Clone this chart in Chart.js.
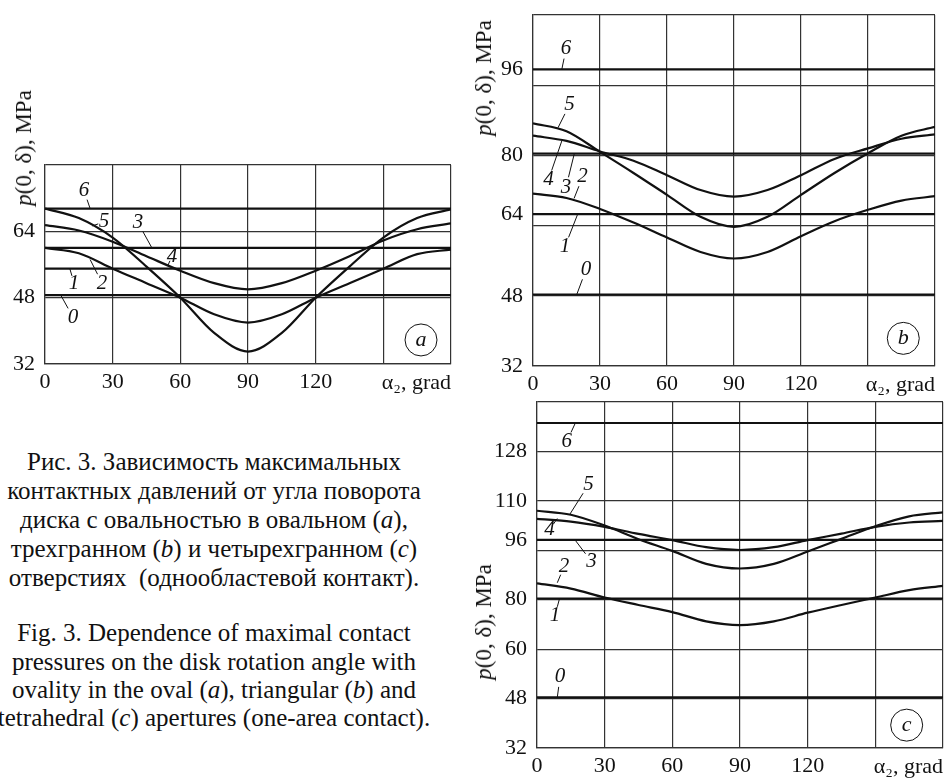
<!DOCTYPE html>
<html>
<head>
<meta charset="utf-8">
<script src="https://cdn.jsdelivr.net/npm/chart.js@4.4.0/dist/chart.umd.min.js"></script>
<style>
body { margin: 0; background: #fff; }
#page { position: relative; width: 946px; height: 778px; overflow: hidden; font-family: "Liberation Serif", "Times New Roman", serif; color: #111; }
canvas { position: absolute; }
.ytit { position: absolute; font-size: 23px; white-space: nowrap; transform: translate(-50%, -50%) rotate(-90deg); }
.cap { position: absolute; left: 214px; transform: translate(-50%, -50%); font-size: 25px; white-space: nowrap; }
</style>
</head>
<body>
<div id="page">
  <canvas id="ca" width="453" height="235" style="left:1px;top:161px"></canvas>
  <canvas id="cb" width="449" height="387" style="left:489px;top:11px"></canvas>
  <canvas id="cc" width="453" height="382" style="left:493px;top:398px"></canvas>

  <div class="ytit" style="left:24px;top:148px"><i>p</i>(0, δ), MPa</div>
  <div class="ytit" style="left:484px;top:78px"><i>p</i>(0, δ), MPa</div>
  <div class="ytit" style="left:484px;top:622px"><i>p</i>(0, δ), MPa</div>

  <div class="cap" style="top:462px">Рис. 3. Зависимость максимальных</div>
  <div class="cap" style="top:491px">контактных давлений от угла поворота</div>
  <div class="cap" style="top:520px">диска с овальностью в овальном (<i>a</i>),</div>
  <div class="cap" style="top:549px">трехгранном (<i>b</i>) и четырехгранном (<i>c</i>)</div>
  <div class="cap" style="top:578px">отверстиях&nbsp; (однообластевой контакт).</div>
  <div class="cap" style="top:633px">Fig. 3. Dependence of maximal contact</div>
  <div class="cap" style="top:662px">pressures on the disk rotation angle with</div>
  <div class="cap" style="top:690px">ovality in the oval (<i>a</i>), triangular (<i>b</i>) and</div>
  <div class="cap" style="top:718px">tetrahedral (<i>c</i>) apertures (one-area contact).</div>
</div>
<script>
// угол поворота, град
const angles = [0, 15, 30, 45, 60, 75, 90, 105, 120, 135, 150, 165, 180];

// (a) овальное отверстие
const aCurve5 = [69.5, 67.2, 62.5, 55.5, 48, 39.5, 35, 39.5, 48, 55.5, 62.5, 67.2, 69.3];
const aCurve4 = [65.5, 64.2, 61.5, 58, 54.5, 51.5, 50, 51.5, 54.5, 58, 61.8, 64.5, 65.9];
const aCurve2 = [60, 58.7, 55, 51.5, 48, 44, 42, 44, 48, 51.5, 55, 58.5, 59.6];
const aLine6 = 69.5, aLine3 = 60, aLine1 = 55, aLine0 = 48.6;
const aGrid = [32, 48, 64, 80];
const aTickVals = [32, 48, 64];
const aTickText = ['32', '48', '64'];

// (b) трехгранное
const bCurve5 = [87.3, 85.5, 80.8, 76, 71, 66, 63.7, 66, 71, 76, 80.5, 84.5, 86.5];
const bCurve4 = [84.5, 83.3, 80.9, 78.8, 75.5, 72.1, 70.6, 72.1, 75.5, 79.2, 81.6, 83.8, 84.8];
const bCurve2 = [71.3, 70.3, 67.8, 64.7, 61.3, 58, 56.5, 58, 61.6, 65, 67.6, 69.7, 70.7];
const bLine6 = 99.6, bLine3 = 80.4, bLine1 = 66.6, bLine0 = 48.3;
const bGrid = [32, 48, 64, 80, 96, 112];
const bTickVals = [32, 48, bLine1, 80, bLine6];
const bTickText = ['32', '48', '64', '80', '96'];

// (c) четырехгранное
const cCurve5 = [108.8, 107.5, 104, 99.6, 95.8, 91.6, 90.1, 91.6, 95.6, 99.7, 103.8, 107, 108.3];
const cCurve4 = [106.2, 105.3, 103.6, 101.3, 99.3, 97, 96.1, 97, 99.3, 101.4, 103.6, 105, 105.5];
const cCurve2 = [85.3, 83.6, 80.7, 78.3, 76, 73, 71.8, 73, 75.8, 78.3, 80.7, 83.1, 84.5];
const cLine6 = 137.2, cLine3 = 99.4, cLine1 = 80.4, cLine0 = 48.4;
const cGrid = [32, 48, 64, 80, 96, 112, 128, 144];
const cTickVals = [32, 48, 64, 80, cLine3, 112, 128];
const cTickText = ['32', '48', '60', '80', '96', '110', '128'];

// подписи кривых: [текст, угол, значение, угол выноски, значение выноски]
const aNotes = [
    ['6', 17.3, 73.8, 20, 69.5], ['5', 26.2, 66.3, 21, 65.3], ['3', 41.2, 66.1, 47.4, 60],
    ['4', 56.3, 58, 54.5, 55.8], ['1', 12.9, 51.5, 11, 55], ['2', 25.3, 51.5, 20, 57.2],
    ['0', 12.4, 43.3, 7, 48.6]
];
const bNotes = [
    ['6', 14.8, 104.3, 12.9, 99.6], ['5', 16.3, 91.5, 11.2, 86.3], ['4', 6.9, 74.4, 12.9, 83.3],
    ['3', 14.8, 72.8, 18.5, 80.4], ['2', 22.2, 75.1, 18.4, 70.2], ['1', 14.3, 59.2, 20, 66.6],
    ['0', 23.7, 53.9, 19.6, 48.3]
];
const cNotes = [
    ['6', 13.2, 131.2, 17, 137.2], ['5', 22.8, 117.2, 14.6, 107.7], ['4', 5.5, 102.6, 9, 106.3],
    ['3', 24.2, 92.3, 16.8, 99.4], ['2', 12, 90.7, 9, 85.5], ['1', 8, 75, 10, 80.4],
    ['0', 10.2, 55, 9, 48.4]
];

const serif = '"Liberation Serif", "Times New Roman", serif';
const ink = '#111';

const notesPlugin = {
    id: 'notes',
    afterDatasetsDraw(chart, args, opts) {
        const { ctx, scales: { x, y } } = chart;
        ctx.save();
        ctx.fillStyle = ink;
        ctx.strokeStyle = ink;
        ctx.lineWidth = 1;
        ctx.font = 'italic 21px ' + serif;
        ctx.textAlign = 'center';
        ctx.textBaseline = 'middle';
        opts.items.forEach(n => {
            const px = x.getPixelForValue(n[1]), py = y.getPixelForValue(n[2]);
            ctx.fillText(n[0], px, py);
            const tx = x.getPixelForValue(n[3]), ty = y.getPixelForValue(n[4]);
            const dx = tx - px, dy = ty - py, d = Math.hypot(dx, dy);
            if (d < 2) return;
            const s = Math.min(10, d * 0.5);
            ctx.beginPath();
            ctx.moveTo(px + dx / d * s, py + dy / d * s);
            ctx.lineTo(tx, ty);
            ctx.stroke();
        });
        // буква в кружке
        const b = opts.badge;
        const bx = x.getPixelForValue(b[1]), by = y.getPixelForValue(b[2]);
        ctx.fillStyle = '#fff';
        ctx.beginPath();
        ctx.arc(bx, by, 16, 0, Math.PI * 2);
        ctx.fill();
        ctx.stroke();
        ctx.fillStyle = ink;
        ctx.font = 'italic 22px ' + serif;
        ctx.fillText(b[0], bx, by);
        ctx.restore();
    }
};

function crearGrafico(id, curves, lines, yMax, grid, tickVals, tickText, notes, badge) {
    const datasets = [];
    curves.forEach(c => datasets.push({
        data: angles.map((a, i) => ({ x: a, y: c[i] })),
        cubicInterpolationMode: 'monotone'
    }));
    lines.forEach(v => datasets.push({ data: [{ x: 0, y: v }, { x: 180, y: v }] }));
    const allTicks = [...new Set([...grid, ...tickVals])].sort((p, q) => p - q);
    const font = { family: serif, size: 22 };

    return new Chart(document.getElementById(id), {
        type: 'line',
        data: { datasets },
        options: {
            responsive: false,
            animation: false,
            events: [],
            layout: { padding: { top: 4, right: 3, left: 0, bottom: 0 } },
            elements: {
                point: { radius: 0 },
                line: { borderColor: ink, borderWidth: 2.2, fill: false }
            },
            plugins: {
                legend: { display: false },
                tooltip: { enabled: false },
                notes: { items: notes, badge: badge }
            },
            scales: {
                x: {
                    type: 'linear', min: 0, max: 180,
                    ticks: { stepSize: 30, padding: 5, color: ink, font, callback: v => v <= 120 ? v : '' },
                    grid: { color: '#333', lineWidth: 1.2, drawTicks: false },
                    border: { color: '#333', width: 1.2 },
                    title: { display: true, text: 'α₂, grad', align: 'end', padding: 0, color: ink, font },
                    afterFit: s => { s.height = 32; s.paddingLeft = 0; s.paddingRight = 0; }
                },
                y: {
                    type: 'linear', min: 32, max: yMax,
                    afterBuildTicks: s => { s.ticks = allTicks.map(v => ({ value: v })); },
                    ticks: {
                        autoSkip: false, padding: 10, color: ink, font,
                        callback: v => { const i = tickVals.indexOf(v); return i < 0 ? '' : tickText[i]; }
                    },
                    grid: {
                        color: c => (c.tick && grid.includes(c.tick.value)) ? '#333' : 'rgba(0,0,0,0)',
                        lineWidth: 1.2, drawTicks: false
                    },
                    border: { color: '#333', width: 1.2 },
                    afterFit: s => { s.width = 44; s.paddingTop = 0; s.paddingBottom = 0; }
                }
            }
        },
        plugins: [notesPlugin]
    });
}

crearGrafico('ca', [aCurve5, aCurve4, aCurve2], [aLine6, aLine3, aLine1, aLine0], 80,
    aGrid, aTickVals, aTickText, aNotes, ['a', 166.7, 37.8]);
crearGrafico('cb', [bCurve5, bCurve4, bCurve2], [bLine6, bLine3, bLine1, bLine0], 112,
    bGrid, bTickVals, bTickText, bNotes, ['b', 165.8, 38.3]);
crearGrafico('cc', [cCurve5, cCurve4, cCurve2], [cLine6, cLine3, cLine1, cLine0], 144,
    cGrid, cTickVals, cTickText, cNotes, ['c', 163.9, 39.4]);
</script>
</body>
</html>
